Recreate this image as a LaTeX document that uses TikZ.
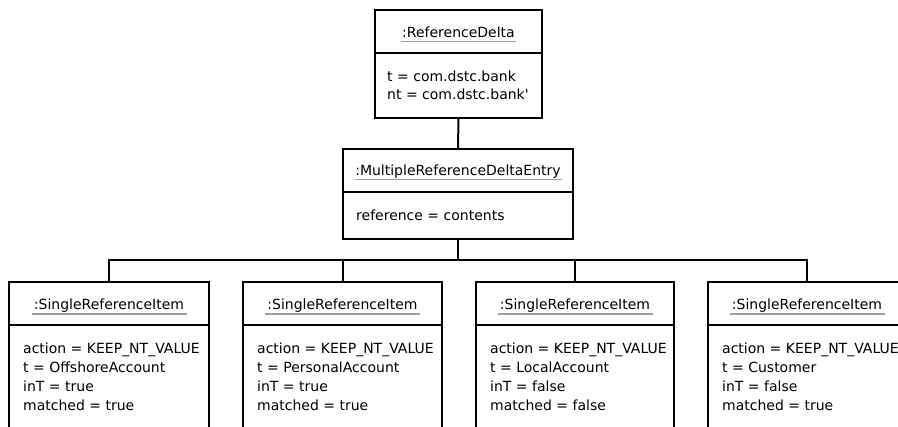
\documentclass[tikz,border=0pt]{standalone}
\usepackage{fontspec}
\setmainfont{DejaVu Sans}
\begin{document}
\begin{tikzpicture}[x=1pt,y=-1pt,
  titlebox/.style={draw, line width=2pt, minimum height=43pt, inner sep=0pt, outer sep=0pt},
  bodybox/.style={draw, line width=2pt, anchor=north, inner sep=0pt, outer sep=0pt},
  titletext/.style={anchor=base, inner sep=0pt, font=\fontsize{14}{17}\selectfont},
  bodytext/.style={anchor=north west, inner sep=0pt, align=left, font=\fontsize{14}{19}\selectfont},
  uline/.style={draw=gray!75, line width=1.3pt},
  conn/.style={line width=2pt}]
\useasboundingbox (0,0) rectangle (898,427);
\clip (0,0) rectangle (898,427);
\fill[white] (0,0) rectangle (898,427);

% ReferenceDelta
\node[titlebox, minimum width=167pt] (rdT) at (458.5,31.5) {};
\node[titletext] (rdL) at ([yshift=-6pt]rdT.center) {:ReferenceDelta};
\node[bodybox, minimum width=167pt, minimum height=65pt] (rdB) at (rdT.south) {};
\node[bodytext, font=\fontsize{14}{17.6}\selectfont] (rdX) at ([xshift=12pt,yshift=-18pt]rdB.north west) {t = com.dstc.bank\\nt = com.dstc.bank{\addfontfeature{Ligatures=TeXOff}'}};
\draw[uline] ([xshift=-57.5pt,yshift=-4pt]rdL.base) -- ([xshift=57.5pt,yshift=-4pt]rdL.base);

% MultipleReferenceDeltaEntry
\node[titlebox, minimum width=230pt] (mrT) at (458,170.5) {};
\node[titletext] (mrL) at ([yshift=-5pt]mrT.center) {:MultipleReferenceDeltaEntry};
\node[bodybox, minimum width=230pt, minimum height=47pt] (mrB) at (mrT.south) {};
\node[bodytext] (mrX) at ([xshift=13pt,yshift=-18pt]mrB.north west) {reference = contents};
\draw[uline] ([xshift=-103.5pt,yshift=-4pt]mrL.base) -- ([xshift=103.5pt,yshift=-4pt]mrL.base);

% SingleReferenceItems
\foreach \n/\cx/\w/\ty/\iv/\mv in {1/109/200/OffshoreAccount/true/true,
                                  2/342.5/199/PersonalAccount/true/true,
                                  3/575/198/LocalAccount/false/false,
                                  4/807/198/Customer/false/true}{
  \node[titlebox, minimum width=\w pt] (s\n T) at (\cx,303.5) {};
  \node[titletext] (s\n L) at ([yshift=-6.5pt]s\n T.center) {:SingleReferenceItem};
  \node[bodybox, minimum width=\w pt, minimum height=120pt] (s\n B) at (s\n T.south) {};
  \node[bodytext] (s\n X) at ([xshift=14pt,yshift=-18pt]s\n B.north west)
     {action = KEEP\_NT\_VALUE\\t = \ty\\inT = \iv\\matched = \mv};
  \draw[uline] ([xshift=-77.5pt,yshift=-4pt]s\n L.base) -- ([xshift=77.5pt,yshift=-4pt]s\n L.base);
}

% connectors
\draw[conn] (rdB.south) -- (mrT.north);
\coordinate (bus) at (458,260);
\draw[conn] (mrB.south) -- (bus);
\draw[conn] (s1T.north) |- (bus) -| (s4T.north);
\draw[conn] (s2T.north) -- (s2T.north |- bus);
\draw[conn] (s3T.north) -- (s3T.north |- bus);
\end{tikzpicture}
\end{document}
